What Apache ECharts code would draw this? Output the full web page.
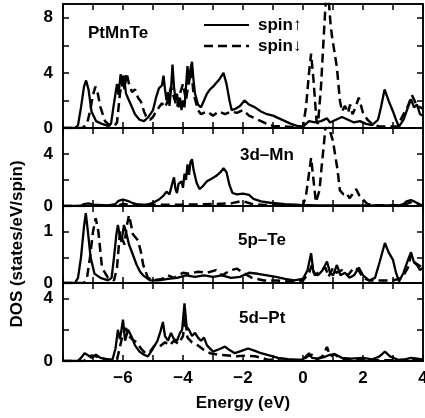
<!DOCTYPE html>
<html><head><meta charset="utf-8">
<script src="https://cdn.jsdelivr.net/npm/echarts@6/dist/echarts.min.js"></script>
<style>html,body{margin:0;padding:0;background:#fff}#c{width:425px;height:418px}</style>
</head><body><div id="c"></div>
<script>
// Energy range (eV) and ticks
const xMin = -8, xMax = 4;
const xLabels = [-6, -4, -2, 0, 2, 4];
const panelNames = ['PtMnTe', '3d\u2013Mn', '5p\u2013Te', '5d\u2013Pt'];
const yMaxes = [9, 6, 1.5, 5];
const yTickSteps = [2, 2, 0.5, 2];
const yLabelSteps = [4, 4, 1, 4];

// Panel 1: total DOS
const totUp = [[-8,0],[-7.6,0],[-7.5,0.2],[-7.4,1.5],[-7.3,3.0],[-7.23,3.45],[-7.15,2.8],[-7.05,1.2],[-6.9,0.5],[-6.7,0.3],[-6.5,0.15],[-6.4,0.3],[-6.3,1.8],[-6.2,3.2],[-6.15,2.4],[-6.08,3.9],[-6.02,3.0],[-5.97,3.8],[-5.9,2.5],[-5.8,2.0],[-5.7,1.5],[-5.6,1.0],[-5.45,0.6],[-5.3,0.5],[-5.15,0.8],[-5.0,1.3],[-4.9,2.2],[-4.8,2.9],[-4.7,3.1],[-4.65,3.8],[-4.6,2.8],[-4.55,2.0],[-4.5,2.6],[-4.45,1.6],[-4.4,2.8],[-4.35,4.6],[-4.3,3.0],[-4.25,2.0],[-4.2,2.5],[-4.15,1.5],[-4.1,2.2],[-4.05,1.3],[-4.0,2.0],[-3.95,1.5],[-3.9,3.0],[-3.85,4.5],[-3.8,3.2],[-3.75,4.3],[-3.7,4.8],[-3.65,3.5],[-3.6,2.5],[-3.5,1.7],[-3.4,1.5],[-3.3,2.0],[-3.2,2.5],[-3.1,2.8],[-3.0,3.0],[-2.8,3.5],[-2.65,4.0],[-2.55,3.2],[-2.45,2.0],[-2.38,1.3],[-2.25,1.4],[-2.1,1.6],[-1.95,2.0],[-1.8,1.7],[-1.6,1.5],[-1.4,1.2],[-1.2,1.0],[-1.0,0.9],[-0.8,0.7],[-0.6,0.5],[-0.4,0.3],[-0.2,0.15],[0,0.1],[0.1,0.3],[0.2,0.5],[0.4,0.4],[0.6,0.5],[0.8,0.7],[0.9,0.4],[1.1,0.6],[1.3,0.8],[1.5,0.6],[1.7,0.4],[1.9,0.5],[2.1,0.3],[2.3,0.2],[2.5,0.6],[2.6,1.5],[2.72,2.8],[2.85,2.0],[3.0,1.2],[3.1,0.6],[3.2,0.1],[3.35,0.6],[3.45,1.2],[3.6,2.1],[3.7,1.5],[3.8,1.7],[3.9,1.0],[4.0,0.9]];
const totDn = [[-8,0],[-7.35,0],[-7.2,0.3],[-7.1,1.2],[-7.0,2.4],[-6.92,3.0],[-6.85,2.6],[-6.75,1.5],[-6.6,0.5],[-6.45,0.2],[-6.3,0.1],[-6.2,0.4],[-6.1,2.5],[-6.0,3.8],[-5.95,2.8],[-5.88,4.0],[-5.8,3.2],[-5.7,2.6],[-5.6,2.8],[-5.5,2.2],[-5.4,1.9],[-5.3,1.2],[-5.2,0.7],[-5.1,0.6],[-5.0,0.8],[-4.9,1.2],[-4.8,1.5],[-4.7,1.8],[-4.6,1.5],[-4.5,2.0],[-4.4,3.0],[-4.3,2.2],[-4.2,1.5],[-4.1,2.5],[-4.0,3.2],[-3.9,2.0],[-3.8,3.5],[-3.72,4.2],[-3.65,2.5],[-3.5,1.3],[-3.4,1.0],[-3.2,1.2],[-3.0,0.9],[-2.8,1.2],[-2.6,1.0],[-2.4,1.2],[-2.2,1.1],[-2.0,1.3],[-1.8,0.9],[-1.6,0.7],[-1.4,0.5],[-1.2,0.3],[-1.0,0.15],[-0.6,0.1],[-0.2,0.05],[0,0.1],[0.1,1.5],[0.2,4.0],[0.27,5.4],[0.35,3.5],[0.45,0.5],[0.5,0.3],[0.6,3.0],[0.7,7.0],[0.78,10],[0.85,9.5],[0.92,7.5],[0.97,6.6],[1.05,5.5],[1.13,4.4],[1.23,2.0],[1.3,1.2],[1.4,1.6],[1.5,1.1],[1.57,1.7],[1.65,1.0],[1.75,1.5],[1.86,2.2],[2.0,1.1],[2.15,0.6],[2.35,0.2],[2.6,0.1],[3.0,0.1],[3.15,0.1],[3.3,0.8],[3.5,1.6],[3.63,2.4],[3.8,1.6],[4.0,1.4]];

// Panel 2: Mn 3d
const mnUp = [[-8,0],[-7.4,0.02],[-7.3,0.15],[-7.15,0.2],[-7.0,0.1],[-6.5,0.05],[-6.25,0.15],[-6.15,0.4],[-6.0,0.5],[-5.85,0.4],[-5.7,0.25],[-5.5,0.1],[-5.2,0.1],[-5.0,0.25],[-4.8,0.5],[-4.65,0.8],[-4.55,1.1],[-4.45,0.9],[-4.35,1.8],[-4.3,2.2],[-4.25,1.3],[-4.2,1.0],[-4.15,1.7],[-4.05,1.9],[-4.0,1.4],[-3.95,2.5],[-3.9,2.0],[-3.85,3.2],[-3.8,2.4],[-3.75,3.4],[-3.7,3.6],[-3.65,2.8],[-3.55,1.8],[-3.45,1.3],[-3.35,1.5],[-3.2,1.9],[-3.05,2.1],[-2.9,2.3],[-2.75,2.6],[-2.65,2.9],[-2.55,2.6],[-2.45,1.6],[-2.35,1.0],[-2.2,0.9],[-2.0,0.95],[-1.8,0.85],[-1.65,0.55],[-1.4,0.35],[-1.1,0.25],[-0.6,0.15],[-0.1,0.08],[0.5,0.05],[1.5,0.05],[2.5,0.05],[3.2,0.05],[3.35,0.15],[3.45,0.35],[3.6,0.45],[3.75,0.3],[3.9,0.08],[4,0.05]];
const mnDn = [[-8,0],[-6.2,0.02],[-6.0,0.15],[-5.8,0.1],[-4,0.1],[-3.0,0.15],[-2.4,0.2],[-2.1,0.35],[-1.9,0.3],[-1.7,0.15],[-1.3,0.08],[-0.5,0.03],[0.0,0.05],[0.1,0.8],[0.2,2.5],[0.27,3.7],[0.35,2.0],[0.43,0.3],[0.55,1.2],[0.62,3.0],[0.69,4.6],[0.78,6.8],[0.85,6.5],[0.92,5.6],[1.0,5.0],[1.08,3.8],[1.15,2.8],[1.23,1.2],[1.35,0.9],[1.45,1.0],[1.55,0.6],[1.65,0.9],[1.77,1.3],[1.88,0.8],[2.0,0.5],[2.15,0.15],[2.4,0.05],[3.3,0.05],[3.5,0.2],[3.7,0.35],[3.9,0.1],[4,0.05]];

// Panel 3: Te 5p
const teUp = [[-8,0],[-7.6,0],[-7.5,0.1],[-7.4,0.5],[-7.3,1.1],[-7.24,1.36],[-7.17,1.0],[-7.08,0.5],[-6.95,0.18],[-6.75,0.1],[-6.5,0.05],[-6.38,0.1],[-6.3,0.5],[-6.22,0.95],[-6.17,1.13],[-6.1,0.9],[-6.05,0.8],[-5.97,1.13],[-5.9,1.0],[-5.8,0.75],[-5.67,0.55],[-5.55,0.36],[-5.43,0.22],[-5.33,0.15],[-5.1,0.05],[-4.8,0.05],[-4.5,0.08],[-4.2,0.1],[-3.9,0.15],[-3.6,0.12],[-3.3,0.15],[-3.0,0.12],[-2.7,0.15],[-2.4,0.1],[-2.1,0.12],[-1.8,0.2],[-1.5,0.18],[-1.2,0.15],[-0.9,0.12],[-0.6,0.08],[-0.3,0.05],[0,0.08],[0.15,0.25],[0.27,0.58],[0.35,0.2],[0.5,0.15],[0.65,0.25],[0.8,0.42],[0.9,0.2],[1.0,0.15],[1.13,0.35],[1.25,0.15],[1.4,0.2],[1.55,0.1],[1.7,0.15],[1.86,0.3],[2.0,0.15],[2.2,0.05],[2.4,0.1],[2.55,0.4],[2.73,0.78],[2.85,0.6],[3.0,0.45],[3.1,0.2],[3.2,0.03],[3.35,0.2],[3.5,0.45],[3.6,0.6],[3.7,0.4],[3.8,0.35],[3.9,0.25],[4.0,0.3]];
const teDn = [[-8,0],[-7.3,0],[-7.2,0.1],[-7.1,0.5],[-7.0,1.0],[-6.91,1.26],[-6.82,1.0],[-6.7,0.3],[-6.5,0.1],[-6.3,0.05],[-6.2,0.3],[-6.1,1.0],[-6.02,0.85],[-5.95,0.75],[-5.88,1.1],[-5.8,1.32],[-5.72,1.1],[-5.67,0.95],[-5.5,0.83],[-5.4,0.6],[-5.33,0.36],[-5.17,0.1],[-5.0,0.05],[-4.7,0.08],[-4.5,0.15],[-4.3,0.1],[-4.0,0.2],[-3.8,0.18],[-3.5,0.22],[-3.2,0.2],[-2.9,0.25],[-2.7,0.15],[-2.4,0.25],[-2.2,0.28],[-2.0,0.2],[-1.7,0.1],[-1.3,0.05],[-0.9,0.05],[-0.5,0.03],[0,0.05],[0.2,0.2],[0.3,0.35],[0.4,0.15],[0.6,0.25],[0.75,0.3],[0.85,0.12],[1.0,0.3],[1.1,0.2],[1.3,0.25],[1.5,0.15],[1.7,0.3],[1.85,0.25],[2.0,0.1],[2.2,0.05],[2.6,0.05],[3.0,0.05],[3.3,0.1],[3.5,0.3],[3.6,0.55],[3.72,0.4],[3.85,0.35],[4,0.3]];

// Panel 4: Pt 5d
const ptUp = [[-8,0],[-7.5,0],[-7.4,0.2],[-7.28,0.5],[-7.15,0.35],[-7.05,0.2],[-6.9,0.4],[-6.75,0.2],[-6.5,0.1],[-6.35,0.1],[-6.25,0.8],[-6.17,2.0],[-6.1,1.4],[-6.0,2.65],[-5.93,1.3],[-5.83,2.0],[-5.7,1.5],[-5.6,1.0],[-5.45,0.6],[-5.3,0.4],[-5.17,0.3],[-5.0,0.8],[-4.85,1.3],[-4.75,1.9],[-4.67,2.5],[-4.6,1.6],[-4.5,1.3],[-4.4,1.8],[-4.3,1.4],[-4.2,1.3],[-4.1,1.8],[-4.03,2.0],[-3.95,3.7],[-3.88,2.2],[-3.8,2.0],[-3.7,1.6],[-3.6,1.8],[-3.5,1.5],[-3.4,1.3],[-3.3,1.5],[-3.2,1.0],[-3.0,0.6],[-2.8,0.75],[-2.6,0.92],[-2.45,0.7],[-2.27,0.5],[-2.05,0.65],[-1.83,0.8],[-1.6,0.65],[-1.4,0.5],[-1.1,0.35],[-0.83,0.2],[-0.5,0.12],[-0.2,0.08],[0,0.1],[0.1,0.3],[0.2,0.5],[0.3,0.2],[0.5,0.15],[0.7,0.25],[0.9,0.4],[1.1,0.4],[1.3,0.2],[1.6,0.15],[2.0,0.2],[2.3,0.1],[2.55,0.3],[2.73,0.6],[2.9,0.3],[3.2,0.05],[3.4,0.1],[3.6,0.2],[3.8,0.15],[4,0.1]];
const ptDn = [[-8,0],[-7.3,0],[-7.2,0.15],[-7.05,0.35],[-6.9,0.3],[-6.7,0.15],[-6.4,0.05],[-6.2,0.1],[-6.1,0.9],[-6.0,1.8],[-5.9,2.1],[-5.8,1.6],[-5.7,1.4],[-5.55,1.2],[-5.4,0.8],[-5.25,0.5],[-5.1,0.6],[-4.95,1.0],[-4.8,0.9],[-4.6,1.2],[-4.45,1.0],[-4.3,1.3],[-4.15,1.1],[-4.0,1.6],[-3.93,2.8],[-3.85,1.5],[-3.7,1.2],[-3.5,1.0],[-3.3,0.7],[-3.1,0.5],[-2.8,0.4],[-2.5,0.35],[-2.2,0.3],[-1.9,0.35],[-1.6,0.3],[-1.2,0.1],[-0.8,0.05],[-0.3,0.03],[0,0.05],[0.15,0.3],[0.3,0.4],[0.45,0.1],[0.65,0.3],[0.8,0.9],[0.9,0.3],[1.05,0.45],[1.2,0.2],[1.5,0.1],[2.0,0.1],[2.4,0.05],[3.0,0.05],[3.4,0.1],[3.6,0.15],[3.8,0.12],[4,0.1]];

const upSeries = [totUp, mnUp, teUp, ptUp];
const dnSeries = [totDn, mnDn, teDn, ptDn];

const FONT = 'Liberation Sans';
const FW = 'bold';
const gridTops = [4, 128, 206, 283];
const gridHeights = [124, 78, 77, 78];
const L = 63, W = 360;
const fmtNum = v => (v < 0 ? '\u2212' + Math.abs(v) : String(v));
const txtFont = FW + ' 17px "' + FONT + '"';

const grids = [], xAxes = [], yAxes = [], series = [];
for (let i = 0; i < 4; i++) {
  grids.push({left: L, top: gridTops[i], width: W, height: gridHeights[i], outerBoundsMode: 'none', containLabel: false,
    show: true, borderColor: '#000', borderWidth: 1.5, backgroundColor: 'transparent'});
  const isBottom = i === 3;
  xAxes.push({type: 'value', gridIndex: i, min: xMin, max: xMax, interval: 1, position: 'bottom',
    axisLine: {show: true, onZero: false, lineStyle: {color: '#000', width: 2.2}},
    axisTick: {show: true, inside: true, length: 6, lineStyle: {color: '#000', width: 1.5}},
    splitLine: {show: false},
    axisLabel: {show: isBottom, margin: 9, color: '#000', fontFamily: FONT, fontWeight: FW, fontSize: 17,
      formatter: v => (xLabels.indexOf(v) >= 0 ? fmtNum(v) : '')},
    name: isBottom ? 'Energy (eV)' : '', nameLocation: 'middle', nameGap: 34,
    nameTextStyle: {color: '#000', fontFamily: FONT, fontWeight: FW, fontSize: 17}});
  xAxes.push({type: 'value', gridIndex: i, min: xMin, max: xMax, interval: 1, position: 'top',
    axisLine: {show: true, onZero: false, lineStyle: {color: '#000', width: 1.5}},
    axisTick: {show: true, inside: true, length: 6, lineStyle: {color: '#000', width: 1.5}},
    splitLine: {show: false}, axisLabel: {show: false}});
  const ls = yLabelSteps[i];
  yAxes.push({type: 'value', gridIndex: i, min: 0, max: yMaxes[i], interval: yTickSteps[i], position: 'left',
    axisLine: {show: true, onZero: false, lineStyle: {color: '#000', width: 1.5}},
    axisTick: {show: true, inside: true, length: 6, lineStyle: {color: '#000', width: 1.5}},
    splitLine: {show: false},
    axisLabel: {show: true, margin: 10, color: '#000', fontFamily: FONT, fontWeight: FW, fontSize: 17, showMaxLabel: false,
      formatter: v => (Math.abs(v / ls - Math.round(v / ls)) < 1e-6 && v < yMaxes[i] ? String(v) : '')}});
  yAxes.push({type: 'value', gridIndex: i, min: 0, max: yMaxes[i], interval: yTickSteps[i], position: 'right',
    axisLine: {show: true, onZero: false, lineStyle: {color: '#000', width: 1.5}},
    axisTick: {show: true, inside: true, length: 6, lineStyle: {color: '#000', width: 1.5}},
    splitLine: {show: false}, axisLabel: {show: false}});
  series.push({type: 'line', xAxisIndex: 2 * i, yAxisIndex: 2 * i, data: upSeries[i], showSymbol: false,
    symbol: 'none', animation: false, clip: true, lineStyle: {color: '#000', width: 2.3, type: 'solid'}});
  series.push({type: 'line', xAxisIndex: 2 * i, yAxisIndex: 2 * i, data: dnSeries[i], showSymbol: false,
    symbol: 'none', animation: false, clip: true, lineStyle: {color: '#000', width: 2.5, type: [9, 5]}});
}

const labelPos = [[88, 35], [240, 157], [238, 242], [239, 320]];
const graphic = panelNames.map((n, i) => ({type: 'text', left: labelPos[i][0], top: labelPos[i][1] - 10,
  style: {text: n, fill: '#000', font: txtFont}}));
graphic.push({type: 'text', x: 17, y: 244, rotation: Math.PI / 2,
  style: {text: 'DOS (states/eV/spin)', fill: '#000', font: txtFont, align: 'center', verticalAlign: 'middle'}});
graphic.push({type: 'line', shape: {x1: 204, y1: 25, x2: 249, y2: 25}, style: {stroke: '#000', lineWidth: 2.2}});
graphic.push({type: 'line', shape: {x1: 204, y1: 46, x2: 249, y2: 46}, style: {stroke: '#000', lineWidth: 2.5, lineDash: [9, 5]}});
graphic.push({type: 'text', x: 258, y: 25, style: {text: 'spin\u2191', fill: '#000', font: txtFont, verticalAlign: 'middle'}});
graphic.push({type: 'text', x: 258, y: 46, style: {text: 'spin\u2193', fill: '#000', font: txtFont, verticalAlign: 'middle'}});

const chart = echarts.init(document.getElementById('c'), null, {renderer: 'canvas'});
chart.setOption({animation: false, backgroundColor: '#fff', grid: grids, xAxis: xAxes, yAxis: yAxes, series: series, graphic: graphic});
</script></body></html>
